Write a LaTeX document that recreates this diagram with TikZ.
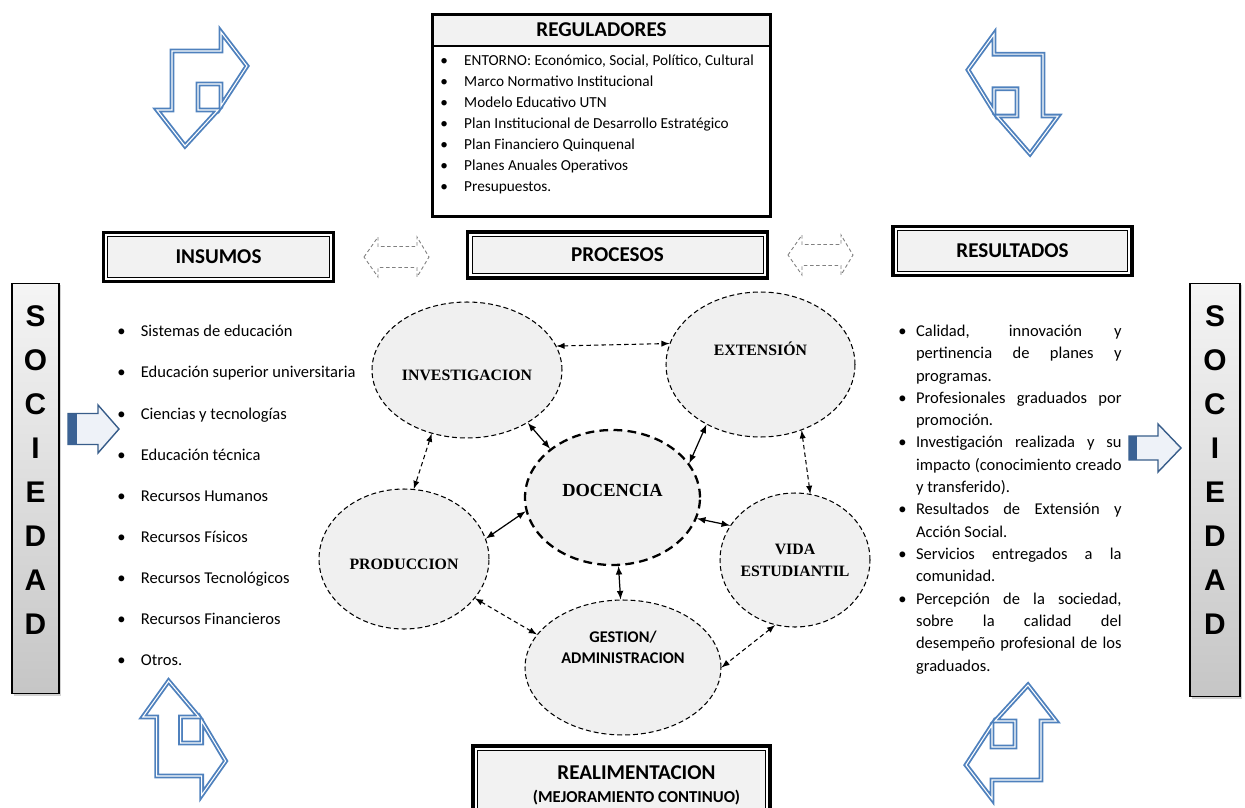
\documentclass[tikz,border=0pt]{standalone}
\usepackage{fontspec}
\setmainfont{Carlito}
\newfontfamily\timesfont{Liberation Serif}
\newfontfamily\arialfont{Liberation Sans}
\usepackage{tikz}
\usetikzlibrary{shapes.geometric,shadows}
\definecolor{arrblue}{RGB}{79,129,189}
\definecolor{darkblue}{RGB}{56,93,138}
\definecolor{bandblue}{RGB}{59,98,148}
\definecolor{palefill}{RGB}{238,242,248}
\definecolor{boxgray}{RGB}{242,242,242}
\definecolor{ellgray}{RGB}{240,240,240}
\newlength\reswidth
\setlength\reswidth{117pt}
\newcommand\regbul{\makebox[13.6pt][l]{\textbullet}}
\newcommand\insbul{\makebox[13.4pt][l]{\textbullet}}
\newcommand\resbul{\llap{\makebox[10pt][l]{\textbullet}}}

\begin{document}
\begin{tikzpicture}[x=0.02cm, y=-0.02cm,
  hdr/.style={draw, line width=0.5pt, fill=boxgray, inner sep=0pt,
    font=\bfseries\fontsize{12}{14}\selectfont},
  hdrframe/.style={line width=2pt},
  proc/.style={ellipse, draw, fill=ellgray, inner sep=0pt, line width=0.6pt,
    dash pattern=on 2.8pt off 1.7pt},
  ptxt/.style={font=\timesfont\bfseries\fontsize{9}{12.5}\selectfont, align=center},
  gtxt/.style={font=\bfseries\fontsize{9.3}{11.9}\selectfont, align=center},
  link/.style={latex-latex, line width=0.7pt},
  dlink/.style={latex-latex, line width=0.6pt, dash pattern=on 2.5pt off 1.8pt},
  bent/.style={draw=arrblue, double=white, double distance=0.6pt, line width=1.05pt,
    line join=miter},
  lrdash/.style={draw=gray, dash pattern=on 2pt off 1.5pt, line width=0.5pt},
  blk/.style={draw=darkblue, fill=palefill, line width=0.8pt, line join=miter},
  socbar/.style={draw, line width=0.6pt, top color=gray!8, bottom color=gray!45,
    drop shadow={shadow xshift=1.2pt, shadow yshift=-1.2pt, fill=gray!70}},
  soctxt/.style={font=\arialfont\bfseries\fontsize{17}{25.1}\selectfont, align=center,
    inner sep=0pt},
  lst/.style={align=left, inner sep=0pt, font=\fontsize{9.4}{23.4}\selectfont},
]
\useasboundingbox (0,0) rectangle (1245,808);
\clip (0,0) rectangle (1245,808);

\def\bentarrow{(30,118) -- (2,82) -- (17,82) -- (17,23) -- (66,23) -- (66,4) -- (92,38)
  -- (66,78) -- (66,56) -- (43,56) -- (43,82) -- (63,82) -- cycle}
\def\lrarrow{(0,0) -- (14,-20) -- (14,-10.5) -- (53,-10.5) -- (53,-20) -- (65,0)
  -- (53,20) -- (53,10.5) -- (14,10.5) -- (14,20) -- cycle}

% corner arrows
\draw[bent, shift={(155,28)}] \bentarrow;
\draw[bent, shift={(1060,30)}, xscale=-1, yscale=1.05] \bentarrow;
\draw[bent, shift={(141,799)}, xscale=0.92, yscale=-1] \bentarrow;
\draw[bent, shift={(1058,803)}, xscale=-1, yscale=-1] \bentarrow;

% reguladores
\node[fill=boxgray, inner sep=0pt, minimum width=6.76cm, minimum height=0.62cm,
  font=\bfseries\fontsize{12}{14}\selectfont] (regt) at (601.5,30) {REGULADORES};
\draw[line width=0.8pt] (regt.south west) -- (regt.south east);
\node[anchor=north west, align=left, inner sep=0pt,
  font=\fontsize{8.7}{11.9}\selectfont] (regl) at (440,55) {%
  \regbul ENTORNO: Económico, Social, Político, Cultural\\
  \regbul Marco Normativo Institucional\\
  \regbul Modelo Educativo UTN\\
  \regbul Plan Institucional de Desarrollo Estratégico\\
  \regbul Plan Financiero Quinquenal\\
  \regbul Planes Anuales Operativos\\
  \regbul Presupuestos.};
\node[draw, line width=1.7pt, inner sep=0pt, minimum width=6.76cm,
  minimum height=4.04cm] (reg) at (601.5,115.5) {};

% headers
\node[hdr, minimum width=4.43cm, minimum height=0.81cm] (ins) at (218.5,257) {INSUMOS};
\node[hdr, minimum width=5.82cm, minimum height=0.74cm] (pro) at (617.5,255) {PROCESOS};
\node[hdr, minimum width=4.61cm, minimum height=0.81cm] (res) at (1012.5,251) {RESULTADOS};
\node[hdr, minimum width=5.76cm, minimum height=1.38cm,
  label={[font=\bfseries\fontsize{12}{14}\selectfont, align=center, xshift=8.5pt]center:%
    {REALIMENTACION\\[-1pt]{\fontsize{9.5}{11}\selectfont(MEJORAMIENTO CONTINUO)}}}]
  (rea) at (621.5,785) {};
\draw[hdrframe] ([shift={(-2.3pt,2.3pt)}]ins.north west) rectangle ([shift={(2.3pt,-2.3pt)}]ins.south east);
\draw[hdrframe] ([shift={(-2.3pt,2.3pt)}]pro.north west) rectangle ([shift={(2.3pt,-2.3pt)}]pro.south east);
\draw[hdrframe] ([shift={(-2.3pt,2.3pt)}]res.north west) rectangle ([shift={(2.3pt,-2.3pt)}]res.south east);
\draw[hdrframe] ([shift={(-2.3pt,2.3pt)}]rea.north west) rectangle ([shift={(2.3pt,-2.3pt)}]rea.south east);

\draw[lrdash, shift={(364,257)}] \lrarrow;
\draw[lrdash, shift={(788,255)}] \lrarrow;

% sociedad
\node[socbar, minimum width=0.94cm, minimum height=8.22cm] (socl) at (35.5,488.5) {};
\node[soctxt] (soclt) at (35.5,470) {S\\O\\C\\I\\E\\D\\A\\D};
\node[socbar, minimum width=1.0cm, minimum height=8.28cm] (socr) at (1215,490) {};
\node[soctxt] (socrt) at (1215,470) {S\\O\\C\\I\\E\\D\\A\\D};

\draw[blk] (68,413.5) -- (98,413.5) -- (98,405) -- (119,429) -- (98,453) -- (98,444.5)
  -- (68,444.5) -- cycle;
\fill[bandblue] (68,413.5) rectangle (77,444.5);
\draw[blk] (1129,436) -- (1158,436) -- (1158,424) -- (1181,448) -- (1158,472) -- (1158,460)
  -- (1129,460) -- cycle;
\fill[bandblue] (1129,436) rectangle (1137,460);

% insumos list
\node[lst, anchor=north west] (insl) at (117,325) {%
  \insbul Sistemas de educación\\
  \insbul Educación superior universitaria\\
  \insbul Ciencias y tecnologías\\
  \insbul Educación técnica\\
  \insbul Recursos Humanos\\
  \insbul Recursos Físicos\\
  \insbul Recursos Tecnológicos\\
  \insbul Recursos Financieros\\
  \insbul Otros.};

% resultados list
\node[lst, anchor=north west, font=\fontsize{9.4}{12.7}\selectfont] (resl) at (915.7,324.6) {%
  \resbul\makebox[\reswidth][s]{Calidad, innovación y}\\
  \makebox[\reswidth][s]{pertinencia de planes y}\\
  programas.\\
  \resbul\makebox[\reswidth][s]{Profesionales graduados por}\\
  promoción.\\
  \resbul\makebox[\reswidth][s]{Investigación realizada y su}\\
  \makebox[\reswidth][s]{impacto (conocimiento creado}\\
  y transferido).\\
  \resbul\makebox[\reswidth][s]{Resultados de Extensión y}\\
  Acción Social.\\
  \resbul\makebox[\reswidth][s]{Servicios entregados a la}\\
  comunidad.\\
  \resbul\makebox[\reswidth][s]{Percepción de la sociedad,}\\
  \makebox[\reswidth][s]{sobre la calidad del}\\
  \makebox[\reswidth][s]{desempeño profesional de los}\\
  graduados.};

% procesos
\node[proc, minimum width=3.8cm, minimum height=2.72cm,
  label={[ptxt, yshift=-2.8pt]center:INVESTIGACION}] (inv) at (467,370) {};
\node[proc, minimum width=3.78cm, minimum height=2.9cm,
  label={[ptxt, yshift=9pt]center:EXTENSIÓN}] (ext) at (760.5,364.5) {};
\node[proc, minimum width=3.5cm, minimum height=2.7cm, line width=1.3pt,
  dash pattern=on 5pt off 3pt,
  label={[ptxt, font=\timesfont\bfseries\fontsize{10.5}{12}\selectfont, yshift=4.2pt]center:DOCENCIA}]
  (doc) at (612.5,497.5) {};
\node[proc, minimum width=3.4cm, minimum height=2.8cm,
  label={[ptxt, yshift=-2.8pt]center:PRODUCCION}] (prod) at (404,559) {};
\node[proc, minimum width=3.0cm, minimum height=2.68cm,
  label={[ptxt]center:{VIDA\\ESTUDIANTIL}}] (vida) at (795,560) {};
\node[proc, minimum width=3.92cm, minimum height=2.7cm,
  label={[gtxt, yshift=11.3pt]center:{GESTION/\\ADMINISTRACION}}] (gest) at (623,667.5) {};

\draw[dlink] (inv.15) -- (ext.167);
\draw[link] (inv.319) -- (doc.142);
\draw[link] (ext.228) -- (doc.24);
\draw[dlink] (inv.241) -- (prod.82);
\draw[dlink] (ext.302) -- (vida.77);
\draw[link] (doc.189) -- (prod.14);
\draw[link] (doc.346) -- (vida.152);
\draw[link] (doc.275) -- (gest.92);
\draw[dlink] (prod.331) -- (gest.159);
\draw[dlink] (vida.253) -- (gest.0);
\end{tikzpicture}
\end{document}
